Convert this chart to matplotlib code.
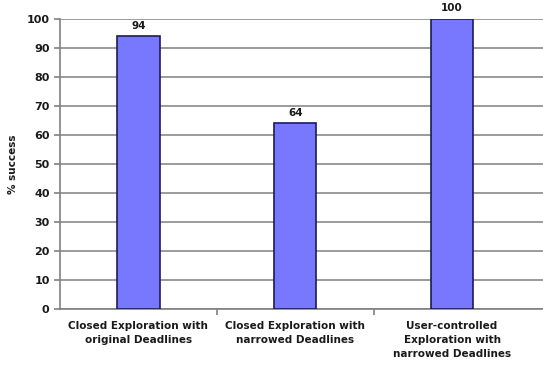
import matplotlib
matplotlib.use("Agg")
import matplotlib.pyplot as plt

categories = ["Closed Exploration with\noriginal Deadlines",
              "Closed Exploration with\nnarrowed Deadlines",
              "User-controlled\nExploration with\nnarrowed Deadlines"]
success = [94, 64, 100]
yticks = list(range(0, 101, 10))

plt.rcParams['font.family'] = 'DejaVu Sans'
plt.rcParams['font.weight'] = 'bold'

fig = plt.figure(figsize=(5.43, 3.66), dpi=100)
ax = fig.add_axes([0.1105, 0.156, 0.8895, 0.792])

x = list(range(len(categories)))
bars = ax.bar(x, success, width=0.27, color='#7878ff', edgecolor='#1c1c55', linewidth=1.2, zorder=3)
for xi, v in zip(x, success):
    ax.text(xi, v + 2, str(v), ha='center', va='bottom', fontsize=7.5, fontweight='bold', color='#1a1a1a')

ax.set_ylim(0, 100)
ax.set_xlim(-0.5, 2.58)
ax.set_yticks(yticks)
ax.yaxis.grid(True, color='#8a8a8a', linewidth=1.2, zorder=0)
ax.set_axisbelow(True)

# ticks between categories on the x axis
ax.set_xticks([0.5, 1.5])
ax.set_xticklabels([])
ax.set_xticks(x, minor=True)
ax.set_xticklabels(categories, minor=True, fontsize=7.5, fontweight='bold', color='#1a1a1a',
                   linespacing=1.45)
ax.tick_params(axis='x', which='minor', length=0, pad=9)
ax.tick_params(axis='x', which='major', length=4, color='#808080', width=1.2)
ax.tick_params(axis='y', length=4, color='#808080', width=1.2, labelsize=8, labelcolor='#1a1a1a')

for s in ['top', 'right']:
    ax.spines[s].set_visible(False)
for s in ['left', 'bottom']:
    ax.spines[s].set_color('#808080')
    ax.spines[s].set_linewidth(1.2)

ax.set_ylabel('% success', fontsize=7.5, fontweight='bold', color='#1a1a1a', labelpad=6)

plt.savefig('out.png', dpi=100)
